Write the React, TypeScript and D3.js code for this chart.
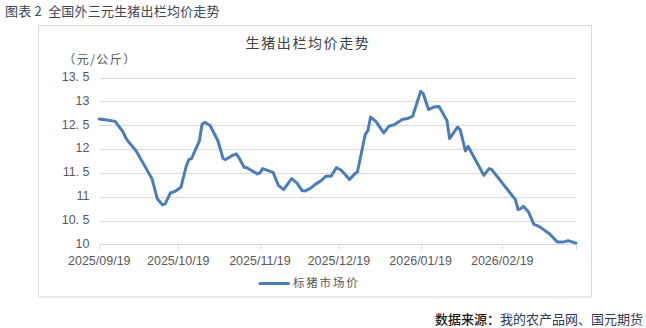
import React from "react";
import * as d3 from "d3";

const dates = ["2025-09-19","2025-09-22","2025-09-25","2025-09-28","2025-09-29","2025-09-30","2025-10-03","2025-10-09","2025-10-11","2025-10-13","2025-10-14","2025-10-16","2025-10-18","2025-10-20","2025-10-22","2025-10-23","2025-10-24","2025-10-27","2025-10-28","2025-10-29","2025-10-31","2025-11-03","2025-11-05","2025-11-06","2025-11-08","2025-11-10","2025-11-11","2025-11-13","2025-11-14","2025-11-18","2025-11-19","2025-11-20","2025-11-21","2025-11-24","2025-11-26","2025-11-28","2025-12-01","2025-12-03","2025-12-05","2025-12-06","2025-12-08","2025-12-10","2025-12-12","2025-12-14","2025-12-16","2025-12-18","2025-12-20","2025-12-23","2025-12-25","2025-12-26","2025-12-29","2025-12-30","2025-12-31","2026-01-02","2026-01-05","2026-01-07","2026-01-09","2026-01-12","2026-01-14","2026-01-16","2026-01-19","2026-01-20","2026-01-22","2026-01-24","2026-01-26","2026-01-29","2026-01-30","2026-02-02","2026-02-03","2026-02-05","2026-02-06","2026-02-12","2026-02-14","2026-02-15","2026-02-24","2026-02-25","2026-02-26","2026-02-27","2026-03-01","2026-03-03","2026-03-05","2026-03-09","2026-03-12","2026-03-14","2026-03-16","2026-03-19"];

const prices = [12.63,12.61,12.58,12.36,12.24,12.16,11.96,11.38,10.96,10.83,10.85,11.08,11.12,11.20,11.64,11.78,11.80,12.17,12.52,12.56,12.50,12.18,11.80,11.78,11.85,11.90,11.82,11.62,11.61,11.48,11.50,11.59,11.57,11.51,11.24,11.15,11.38,11.29,11.13,11.12,11.17,11.26,11.33,11.43,11.43,11.61,11.55,11.36,11.48,11.52,12.31,12.39,12.67,12.58,12.34,12.48,12.51,12.62,12.64,12.69,13.21,13.16,12.83,12.88,12.89,12.60,12.22,12.46,12.41,11.96,12.06,11.45,11.59,11.57,10.94,10.73,10.75,10.80,10.68,10.42,10.38,10.22,10.05,10.05,10.08,10.03];

const xTickDates = ["2025-09-19","2025-10-19","2025-11-19","2025-12-19","2026-01-19","2026-02-19","2026-03-19"];
const xTickLabels = ["2025/09/19","2025/10/19","2025/11/19","2025/12/19","2026/01/19","2026/02/19",""];
const yTicks = [10, 10.5, 11, 11.5, 12, 12.5, 13, 13.5];
const yTickLabels = ["10","10. 5","11","11. 5","12","12. 5","13","13. 5"];

const figureTitle = "图表 2  全国外三元生猪出栏均价走势";
const chartTitle = "生猪出栏均价走势";
const unitLabel = "（元/公斤）";
const seriesName = "标猪市场价";
const sourceLabel = "数据来源：";
const sourceText = "我的农产品网、国元期货";

const parse = d3.timeParse("%Y-%m-%d");

export default function App() {
  const W = 646, H = 328;
  const x = d3.scaleTime()
    .domain([parse(xTickDates[0])!, parse(xTickDates[xTickDates.length - 1])!])
    .range([99.3, 576]);
  const y = d3.scaleLinear().domain([10, 13.5]).range([244.5, 77.5]);
  const data = dates.map((d, i) => ({ d: parse(d)!, v: prices[i] }));
  const line = d3.line<{ d: Date; v: number }>().x(p => x(p.d)).y(p => y(p.v));
  const cjk = "'Noto Sans CJK SC', sans-serif";
  const num = "'Liberation Sans', Arial, sans-serif";

  return (
    <svg width={W} height={H} style={{ position: "absolute", left: 0, top: 0, background: "#fff" }}>
      <rect x={0} y={0} width={W} height={H} fill="#fff" />
      <text x={5} y={12} fontFamily={cjk} fontSize={13} letterSpacing={0.2} fill="#3d4656" dominantBaseline="middle" style={{ whiteSpace: "pre" }}>{figureTitle}</text>
      <rect x={38.5} y={25.5} width={553} height={271.5} fill="#fff" stroke="#d9d9d9" strokeWidth={1} />
      <text x={308} y={44} fontFamily={cjk} fontSize={14} letterSpacing={1.6} fill="#404040" textAnchor="middle" dominantBaseline="middle">{chartTitle}</text>
      <text x={100} y={60.5} fontFamily={cjk} fontSize={12} letterSpacing={1.5} fill="#595959" textAnchor="middle" dominantBaseline="middle">{unitLabel}</text>
      {yTicks.map((t, i) => (
        <g key={t}>
          {i > 0 && <line x1={99.3} x2={576} y1={Math.round(y(t)) + 0.5} y2={Math.round(y(t)) + 0.5} stroke="#d9d9d9" />}
          <text x={89.5} y={y(t)} fontFamily={num} fontSize={12.5} fill="#595959" textAnchor="end" dominantBaseline="middle">{yTickLabels[i]}</text>
        </g>
      ))}
      <line x1={99.3} x2={576.5} y1={244.5} y2={244.5} stroke="#d9d9d9" />
      {xTickDates.map((t, i) => {
        const xp = Math.round(x(parse(t)!)) + 0.5;
        return (
          <g key={t}>
            <line x1={xp} x2={xp} y1={244.5} y2={250} stroke="#d9d9d9" />
            {xTickLabels[i] && (
              <text x={x(parse(t)!)} y={261.5} fontFamily={num} fontSize={12.5} fill="#595959" textAnchor="middle" dominantBaseline="middle">{xTickLabels[i]}</text>
            )}
          </g>
        );
      })}
      <path d={line(data) || ""} fill="none" stroke="#4a7ebb" strokeWidth={3} strokeLinejoin="round" strokeLinecap="round" />
      <line x1={260} x2={288.5} y1={283.5} y2={283.5} stroke="#4a7ebb" strokeWidth={3} strokeLinecap="round" />
      <text x={293} y={284} fontFamily={cjk} fontSize={11.5} letterSpacing={1.8} fill="#595959" dominantBaseline="middle">{seriesName}</text>
      <text x={643} y={320} fontFamily={cjk} fontSize={13} textAnchor="end" dominantBaseline="middle">
        <tspan fill="#1a1a1a" fontWeight={500}>{sourceLabel}</tspan>
        <tspan fill="#2e3a52">{sourceText}</tspan>
      </text>
    </svg>
  );
}
